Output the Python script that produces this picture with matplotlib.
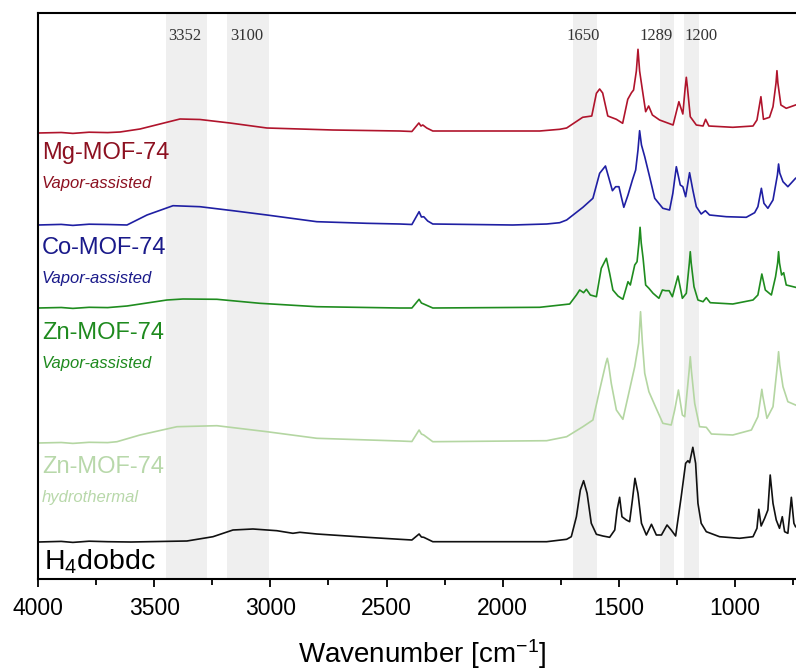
import matplotlib.pyplot as plt
from matplotlib.ticker import MultipleLocator

plt.rcParams['font.family'] = ['Liberation Sans', 'DejaVu Sans']
plt.rcParams['mathtext.default'] = 'regular'

# wavenumbers [cm-1] and absorbance above each trace's own baseline
mg_wn = [4000, 3900, 3850, 3780, 3700, 3647, 3561, 3475, 3389, 3303, 3174, 3015, 2731, 2443,
         2391, 2361, 2352, 2344, 2327, 2301, 1841, 1755, 1725, 1656, 1617, 1597, 1583, 1570,
         1548, 1511, 1484, 1462, 1446, 1437, 1425, 1418, 1411, 1399, 1385, 1372, 1356, 1325,
         1267, 1242, 1225, 1215, 1210, 1205, 1193, 1167, 1138, 1127, 1113, 1010, 923, 906,
         889, 878, 852, 837, 824, 820, 816, 803, 780, 740]
mg_abs = [0.0, 0.005, -0.004, 0.008, 0.004, 0.01, 0.04, 0.09, 0.14, 0.135, 0.10, 0.05, 0.03, 0.02,
          0.015, 0.10, 0.07, 0.08, 0.05, 0.02, 0.02, 0.037, 0.05, 0.157, 0.17, 0.397, 0.44, 0.40,
          0.17, 0.137, 0.097, 0.337, 0.403, 0.43, 0.62, 0.837, 0.62, 0.43, 0.213, 0.27, 0.18, 0.13,
          0.08, 0.313, 0.19, 0.45, 0.557, 0.45, 0.163, 0.08, 0.07, 0.137, 0.07, 0.057, 0.07, 0.13,
          0.363, 0.137, 0.157, 0.263, 0.5, 0.623, 0.5, 0.28, 0.247, 0.28]

co_wn = [4000, 3900, 3850, 3780, 3700, 3617, 3531, 3419, 3303, 3161, 3015, 2800, 2585, 2443,
         2391, 2360, 2350, 2340, 2323, 2301, 1957, 1811, 1755, 1725, 1655, 1612, 1583, 1558,
         1543, 1528, 1514, 1500, 1490, 1479, 1461, 1442, 1428, 1418, 1411, 1403, 1389, 1368,
         1346, 1311, 1282, 1268, 1253, 1236, 1225, 1213, 1196, 1182, 1167, 1146, 1128, 1110,
         1038, 952, 916, 902, 887, 876, 859, 837, 818, 813, 808, 794, 773, 740]
co_abs = [0.0, 0.006, -0.004, 0.008, 0.005, 0.0, 0.10, 0.193, 0.183, 0.143, 0.10, 0.033, 0.017, 0.01,
          0.005, 0.133, 0.08, 0.083, 0.04, 0.01, 0.0, 0.01, 0.023, 0.05, 0.177, 0.267, 0.517, 0.59,
          0.467, 0.343, 0.383, 0.383, 0.283, 0.177, 0.30, 0.45, 0.55, 0.75, 0.943, 0.80, 0.683, 0.483,
          0.267, 0.167, 0.15, 0.317, 0.583, 0.40, 0.383, 0.283, 0.523, 0.35, 0.183, 0.11, 0.143, 0.10,
          0.083, 0.077, 0.123, 0.183, 0.367, 0.217, 0.167, 0.25, 0.5, 0.61, 0.52, 0.433, 0.383, 0.467]

zn_wn = [4000, 3900, 3850, 3780, 3700, 3617, 3445, 3376, 3230, 3045, 2800, 2443, 2391, 2360,
         2350, 2340, 2301, 1841, 1712, 1683, 1669, 1652, 1640, 1623, 1597, 1576, 1554, 1540,
         1526, 1504, 1483, 1461, 1451, 1432, 1422, 1414, 1409, 1404, 1396, 1385, 1371, 1353,
         1328, 1313, 1299, 1284, 1270, 1246, 1227, 1210, 1197, 1193, 1189, 1177, 1160, 1138,
         1124, 1107, 1010, 923, 902, 885, 870, 844, 826, 817, 813, 809, 800, 791, 780, 740]
zn_abs = [0.0, 0.005, -0.004, 0.007, 0.004, 0.02, 0.08, 0.09, 0.087, 0.047, 0.013, 0.0, 0.0, 0.087,
          0.05, 0.04, 0.0, 0.007, 0.04, 0.13, 0.18, 0.153, 0.187, 0.13, 0.113, 0.397, 0.497, 0.347,
          0.18, 0.12, 0.087, 0.263, 0.23, 0.43, 0.463, 0.65, 0.807, 0.65, 0.497, 0.23, 0.197, 0.147,
          0.097, 0.18, 0.173, 0.173, 0.113, 0.32, 0.097, 0.147, 0.45, 0.563, 0.45, 0.213, 0.08, 0.063,
          0.103, 0.053, 0.04, 0.08, 0.13, 0.34, 0.18, 0.13, 0.313, 0.45, 0.563, 0.45, 0.33, 0.353,
          0.23, 0.207]

znh_wn = [4000, 3900, 3850, 3780, 3700, 3660, 3561, 3402, 3230, 3015, 2800, 2443, 2391, 2360,
          2350, 2340, 2301, 1811, 1725, 1655, 1612, 1583, 1556, 1550, 1544, 1533, 1511, 1483,
          1461, 1432, 1415, 1407, 1399, 1389, 1371, 1346, 1311, 1275, 1260, 1244, 1227, 1217,
          1198, 1193, 1188, 1174, 1153, 1124, 1102, 1010, 930, 902, 889, 885, 881, 863, 837,
          818, 813, 808, 794, 773, 740]
znh_abs = [0.0, 0.005, -0.004, 0.007, 0.004, 0.013, 0.08, 0.163, 0.173, 0.113, 0.047, 0.02, 0.015, 0.13,
           0.09, 0.08, 0.013, 0.023, 0.063, 0.163, 0.23, 0.53, 0.80, 0.847, 0.78, 0.597, 0.33, 0.237,
           0.463, 0.763, 1.0, 1.313, 1.0, 0.697, 0.513, 0.38, 0.197, 0.18, 0.33, 0.53, 0.28, 0.263,
           0.72, 0.863, 0.72, 0.397, 0.163, 0.157, 0.09, 0.08, 0.13, 0.263, 0.47, 0.537, 0.47, 0.247, 0.363,
           0.78, 0.913, 0.78, 0.563, 0.413, 0.38]

h4_wn = [4000, 3900, 3850, 3780, 3700, 3600, 3359, 3247, 3161, 3075, 2972, 2903, 2873, 2800,
         2585, 2443, 2391, 2360, 2350, 2340, 2301, 1811, 1725, 1705, 1683, 1666, 1652, 1637,
         1619, 1597, 1569, 1540, 1518, 1508, 1497, 1487, 1468, 1454, 1442, 1431, 1418, 1403,
         1382, 1360, 1339, 1317, 1293, 1275, 1256, 1232, 1213, 1203, 1196, 1182, 1170, 1160,
         1146, 1124, 1067, 981, 923, 906, 898, 888, 873, 859, 849, 837, 823, 809, 797, 787,
         773, 758, 747, 740]
h4_abs = [0.0, 0.006, -0.004, 0.008, 0.003, 0.0, 0.01, 0.053, 0.12, 0.13, 0.113, 0.087, 0.097, 0.08,
          0.047, 0.027, 0.02, 0.08, 0.05, 0.047, 0.003, 0.003, 0.027, 0.053, 0.253, 0.52, 0.613, 0.487,
          0.187, 0.077, 0.06, 0.047, 0.12, 0.32, 0.447, 0.253, 0.22, 0.203, 0.42, 0.637, 0.487, 0.187,
          0.07, 0.177, 0.07, 0.07, 0.17, 0.12, 0.06, 0.453, 0.787, 0.813, 0.793, 0.947, 0.787, 0.387,
          0.187, 0.103, 0.053, 0.037, 0.053, 0.137, 0.327, 0.16, 0.237, 0.32, 0.67, 0.387, 0.22, 0.137,
          0.253, 0.103, 0.087, 0.447, 0.187, 0.153]

offsets = [4.46, 3.54, 2.71, 1.36, 0.37]
names = ['Mg-MOF-74', 'Co-MOF-74', 'Zn-MOF-74', 'Zn-MOF-74', 'H$_4$dobdc']
methods = ['Vapor-assisted', 'Vapor-assisted', 'Vapor-assisted', 'hydrothermal', '']
line_colors = ['#b0142c', '#1f1fa3', '#1f8c1f', '#b4d6a2', '#111111']
text_colors = ['#8c1020', '#1a1a8a', '#1e8a1e', '#b8d8aa', '#000000']

# shaded regions and their labels
bands = [(3450, 3273), (3187, 3007), (1699, 1596), (1325, 1265), (1222, 1157)]
band_labels = ['3352', '3100', '1650', '1289', '1200']
band_label_x = [3370, 3101, 1654, 1340, 1148]

spectra = [(mg_wn, mg_abs), (co_wn, co_abs), (zn_wn, zn_abs), (znh_wn, znh_abs), (h4_wn, h4_abs)]

fig = plt.figure(figsize=(7.96, 6.71), dpi=100)
ax = fig.add_axes([38 / 796, 92 / 671, 1 - 38 / 796, 566 / 671])

for (lo, hi) in bands:
    ax.axvspan(lo, hi, color='#efefef', lw=0, zorder=0)
for lab, xpos in zip(band_labels, band_label_x):
    ax.text(xpos, 5.43, lab, family='Liberation Serif', fontsize=12, color='#333333',
            ha='center', va='center')

for (wn, ab), off, col in zip(spectra, offsets, line_colors):
    ax.plot(wn, [a + off for a in ab], color=col, lw=1.2, zorder=2)

# sample labels under each trace (baseline placement)
name_drop = [0.26, 0.29, 0.31, 0.30]
method_drop = [0.55, 0.58, 0.60, 0.59]
for i in range(4):
    ax.text(3983, offsets[i] - name_drop[i], names[i], fontsize=17, color=text_colors[i],
            ha='left', va='baseline')
    ax.text(3983, offsets[i] - method_drop[i], methods[i], fontsize=12, style='italic',
            color=text_colors[i], ha='left', va='baseline')
ax.text(3975, 0.09, names[4], fontsize=20.5, color=text_colors[4], ha='left', va='baseline')

ax.set_xlim(4000, 738)
ax.set_ylim(0, 5.66)
ax.set_yticks([])
ax.xaxis.set_major_locator(MultipleLocator(500))
ax.xaxis.set_minor_locator(MultipleLocator(250))
ax.tick_params(axis='x', which='major', direction='out', length=6, width=1.3,
               labelsize=16.5, pad=7)
ax.tick_params(axis='x', which='minor', direction='out', length=4, width=1.3)
ax.spines['right'].set_visible(False)
for s in ['top', 'left', 'bottom']:
    ax.spines[s].set_linewidth(1.5)

fig.text(422 / 796, 1 - 663 / 671, 'Wavenumber [cm$^{-1}$]', fontsize=20,
         ha='center', va='baseline')

fig.savefig('out.png', dpi=100)
